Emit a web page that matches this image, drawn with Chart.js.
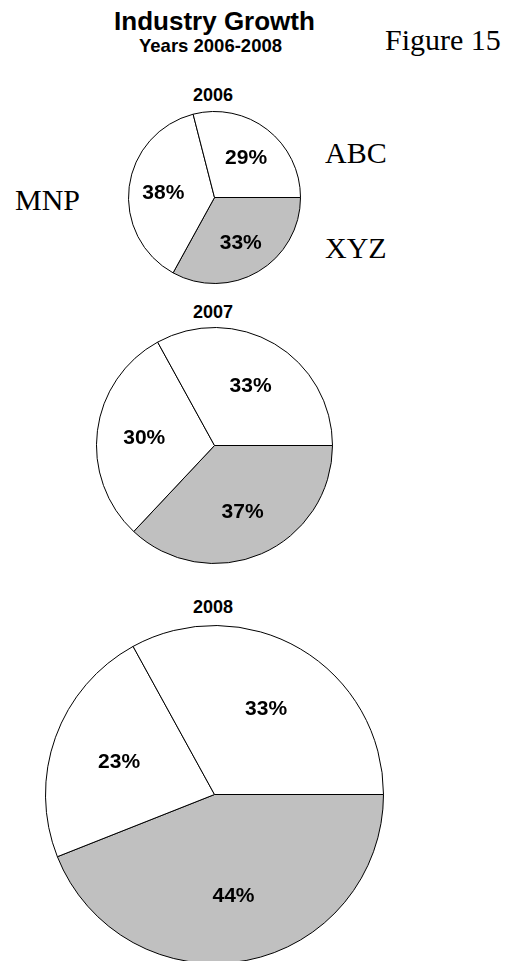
<!DOCTYPE html>
<html>
<head>
<meta charset="utf-8">
<script src="https://cdn.jsdelivr.net/npm/chart.js@4.4.0/dist/chart.umd.min.js"></script>
<style>
  body { margin: 0; width: 512px; height: 961px; overflow: hidden; background: #fff; position: relative; }
  .txt { position: absolute; white-space: nowrap; line-height: 1; color: #000; }
  .sans { font-family: "Liberation Sans", Arial, sans-serif; font-weight: bold; }
  .serif { font-family: "Liberation Serif", "Times New Roman", serif; }
  .mid { transform: translateX(-50%); }
  canvas { position: absolute; }
</style>
</head>
<body>
  <div class="txt sans mid" style="left:214.5px; top:8px; font-size:26px;">Industry Growth</div>
  <div class="txt sans mid" style="left:210.5px; top:37px; font-size:18.5px;">Years 2006-2008</div>
  <div class="txt serif" style="left:385px; top:25px; font-size:30px;">Figure 15</div>

  <div class="txt serif" style="left:325px; top:138px; font-size:30px;">ABC</div>
  <div class="txt serif" style="left:15px; top:185px; font-size:30px;">MNP</div>
  <div class="txt serif" style="left:325px; top:233px; font-size:30px;">XYZ</div>

  <div class="txt sans mid" style="left:213px; top:86px; font-size:18px;">2006</div>
  <div class="txt sans mid" style="left:213px; top:303px; font-size:18px;">2007</div>
  <div class="txt sans mid" style="left:213px; top:598px; font-size:18px;">2008</div>

  <canvas id="pie2006" width="173" height="173" style="left:128px; top:111px;"></canvas>
  <canvas id="pie2007" width="237" height="237" style="left:96px; top:327px;"></canvas>
  <canvas id="pie2008" width="339" height="339" style="left:45px; top:625px;"></canvas>

<script>
// Slices in drawing order, clockwise from 3 o'clock
const categories = ['XYZ', 'MNP', 'ABC'];
const share2006 = [33, 38, 29];
const share2007 = [37, 30, 33];
const share2008 = [44, 23, 33];
const sliceColors = ['#c0c0c0', '#ffffff', '#ffffff'];

// Percent labels inside each slice, at 60% of the radius
const pctLabels = {
    id: 'pctLabels',
    afterDatasetsDraw(chart) {
        const ctx = chart.ctx;
        const values = chart.data.datasets[0].data;
        ctx.save();
        ctx.font = 'bold 21px "Liberation Sans", Arial, sans-serif';
        ctx.fillStyle = '#000';
        ctx.textAlign = 'center';
        ctx.textBaseline = 'alphabetic';
        chart.getDatasetMeta(0).data.forEach((arc, i) => {
            const p = arc.getProps(['x', 'y', 'startAngle', 'endAngle', 'outerRadius'], true);
            const mid = (p.startAngle + p.endAngle) / 2;
            const r = p.outerRadius * 0.6;
            ctx.fillText(values[i] + '%', p.x + Math.cos(mid) * r, p.y + Math.sin(mid) * r + 7.5);
        });
        ctx.restore();
    }
};

function pieConfig(values) {
    return {
        type: 'pie',
        data: {
            labels: categories,
            datasets: [{
                data: values,
                backgroundColor: sliceColors,
                borderColor: '#000',
                borderWidth: 1
            }]
        },
        options: {
            responsive: false,
            animation: false,
            rotation: 90,
            layout: { padding: 0 },
            plugins: {
                legend: { display: false },
                tooltip: { enabled: false }
            }
        },
        plugins: [pctLabels]
    };
}

new Chart(document.getElementById('pie2006').getContext('2d'), pieConfig(share2006));
new Chart(document.getElementById('pie2007').getContext('2d'), pieConfig(share2007));
new Chart(document.getElementById('pie2008').getContext('2d'), pieConfig(share2008));
</script>
</body>
</html>
